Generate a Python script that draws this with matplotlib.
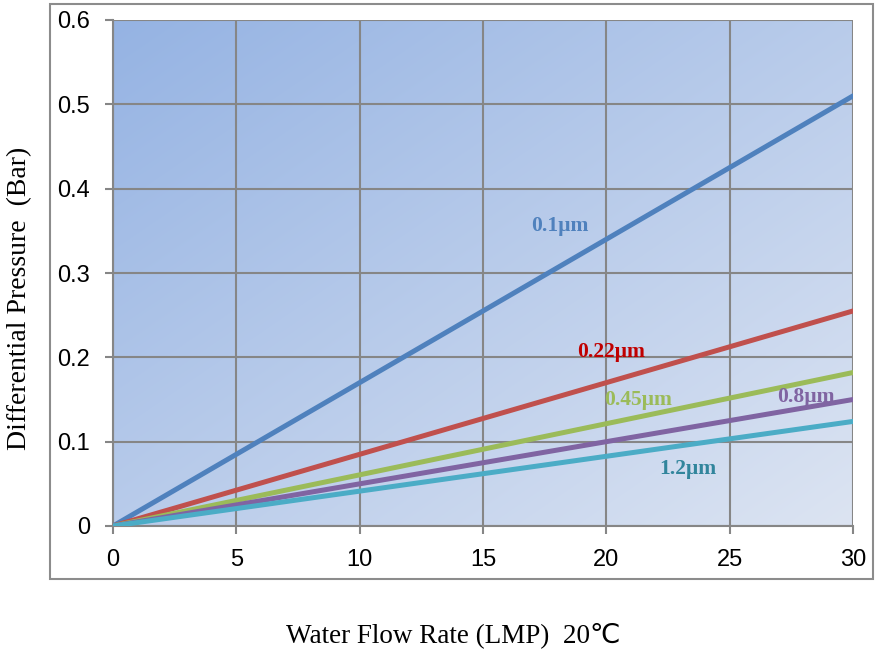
import numpy as np
import matplotlib
matplotlib.use("Agg")
import matplotlib.pyplot as plt
from matplotlib.patches import Rectangle
from matplotlib.colors import LinearSegmentedColormap

# data
flow = [0, 30]
series_names = ["0.1µm", "0.22µm", "0.45µm", "0.8µm", "1.2µm"]
dp_01 = [0, 0.510]
dp_022 = [0, 0.255]
dp_045 = [0, 0.182]
dp_08 = [0, 0.150]
dp_12 = [0, 0.124]
series = [dp_01, dp_022, dp_045, dp_08, dp_12]

line_colors = ["#4F81BD", "#C0504D", "#9BBB59", "#8064A2", "#4BACC6"]
label_colors = ["#4F81BD", "#C00000", "#9BBB59", "#8064A2", "#31859C"]
label_pos = [(18.1, 0.356), (20.2, 0.206), (21.3, 0.150), (28.1, 0.153), (23.3, 0.068)]

fig = plt.figure(figsize=(8.75, 6.49), dpi=100)
ax = fig.add_axes([113 / 875, 123 / 649, 740 / 875, 506 / 649])

# gradient background
cmap = LinearSegmentedColormap.from_list("bg", ["#95B3E3", "#DCE4F2"])
gx, gy = np.meshgrid(np.linspace(0, 1, 200), np.linspace(0, 1, 200))
grad = (gx + gy) / 2
ax.imshow(grad, extent=[0, 30, 0, 0.6], origin="upper", cmap=cmap,
          aspect="auto", zorder=0, interpolation="bicubic")

for vals, c in zip(series, line_colors):
    ax.plot(flow, vals, color=c, lw=3.6, solid_capstyle="round", zorder=3)

for name, (lx, ly), c in zip(series_names, label_pos, label_colors):
    ax.text(lx, ly, name, color=c, fontsize=15.5, fontweight="bold",
            family="Liberation Serif", ha="center", va="center", zorder=4)

ax.set_xlim(0, 30)
ax.set_ylim(0, 0.6)
ax.set_xticks(range(0, 31, 5))
ax.set_yticks([0, 0.1, 0.2, 0.3, 0.4, 0.5, 0.6])
ax.set_yticklabels(["0", "0.1", "0.2", "0.3", "0.4", "0.5", "0.6"])
ax.grid(True, color="#868686", lw=1.5, zorder=1)
ax.set_axisbelow(False)
for s in ["top", "right"]:
    ax.spines[s].set_visible(False)
for s in ["left", "bottom"]:
    ax.spines[s].set_color("#868686")
    ax.spines[s].set_linewidth(1.5)
ax.tick_params(direction="out", length=5.5, width=1.5, color="#868686",
               labelsize=17)
ax.tick_params(axis="y", pad=11)
ax.tick_params(axis="x", pad=11)
for lbl in ax.get_xticklabels() + ax.get_yticklabels():
    lbl.set_family("Liberation Sans")

fig.text(453 / 875, 1 - 635 / 649, "Water Flow Rate (LMP)  20℃", ha="center",
         va="center", fontsize=19.5, family=["Liberation Serif", "DejaVu Sans"])
fig.text(20 / 875, 1 - 298 / 649, "Differential Pressure  (Bar)", ha="center",
         va="center", rotation=90, fontsize=20, family="Liberation Serif")

fig.patches.append(Rectangle((50 / 875, 1 - 579 / 649), 823 / 875, 575 / 649,
                             transform=fig.transFigure, fill=False,
                             edgecolor="#8C8C8C", lw=1.5))

fig.savefig("out.png", dpi=100)
